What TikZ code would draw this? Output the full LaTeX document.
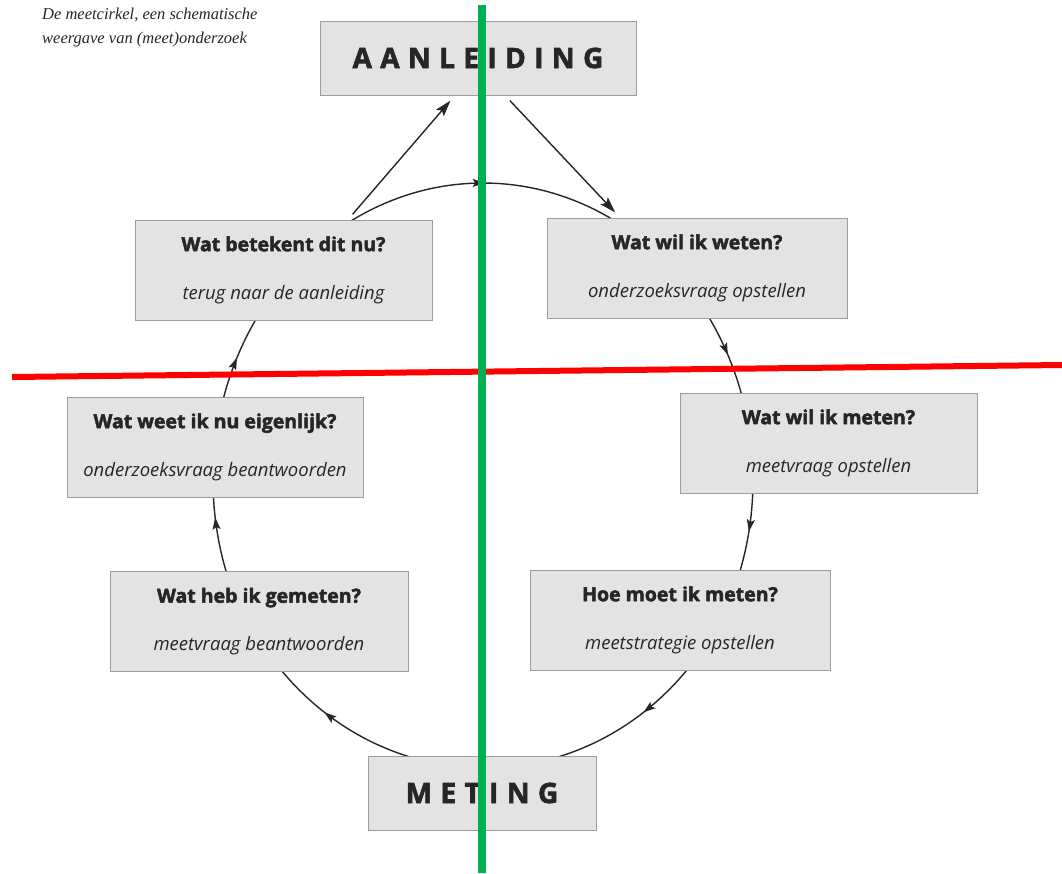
\documentclass[tikz,border=0pt]{standalone}
\usepackage{fontspec}
\newfontfamily\boxfont{Open Sans}[BoldFeatures={FakeBold=2.4}]
\newfontfamily\spacedfont{Open Sans}[LetterSpace=30,BoldFeatures={FakeBold=2.2}]
\newfontfamily\capfont{Liberation Serif}
\usetikzlibrary{arrows.meta,decorations.markings,calc,backgrounds}
\definecolor{boxfill}{HTML}{E3E3E3}
\definecolor{boxline}{HTML}{9C9C9C}
\definecolor{ink}{HTML}{262626}
\definecolor{overgreen}{HTML}{00B050}
\definecolor{overred}{HTML}{FF0000}
\tikzset{
  stepbox/.style={draw=boxline, line width=0.8pt, fill=boxfill, text=ink,
    minimum width=#1, minimum height=100pt, inner sep=0pt, align=center,
    font=\boxfont\fontsize{19.5}{24}\selectfont},
  bigbox/.style={draw=boxline, line width=0.8pt, fill=boxfill, text=ink,
    minimum width=#1, minimum height=74pt, inner sep=0pt,
    font=\spacedfont\bfseries\fontsize{28}{32}\selectfont},
  cyc/.style={draw=ink, line width=1.4pt,
    postaction={decorate},
    decoration={markings, mark=at position 0.5 with {\arrow{Stealth[length=12pt,width=8pt,inset=2.5pt]}}}},
  straight/.style={draw=ink, line width=1.4pt, -{Stealth[length=16pt,width=10pt,inset=3pt]},
    shorten >=7pt, shorten <=7pt},
}
\newcommand{\ttlline}[1]{{\bfseries #1}}
\newcommand{\subline}[1]{{\itshape\fontsize{18.5}{24}\selectfont #1}}
\begin{document}
\begin{tikzpicture}[x=1pt,y=1pt]
\useasboundingbox (0,0) rectangle (1062,-873);

% caption
\node[anchor=north west, align=left, inner sep=0pt, text=ink,
      font=\capfont\itshape\fontsize{16.5}{24}\selectfont] (caption) at (42,-8)
  {De meetcirkel, een schematische\\weergave van (meet)onderzoek};

% boxes
\node[bigbox=316pt] (aanl) at (478,-58) {AANLEIDING};
\node[bigbox=228pt] (meting) at (482,-793) {METING};
\node[stepbox=297pt] (betekent) at (283.5,-270)
  {\ttlline{Wat betekent dit nu?}\\[24pt]\subline{terug naar de aanleiding}};
\node[stepbox=300pt] (weten) at (697,-268)
  {\ttlline{Wat wil ik weten?}\\[24pt]\subline{onderzoeksvraag opstellen}};
\node[stepbox=296pt] (weet) at (215,-447)
  {\ttlline{Wat weet ik nu eigenlijk?}\\[24pt]\subline{onderzoeksvraag beantwoorden}};
\node[stepbox=297pt] (meten) at (828.5,-443)
  {\ttlline{Wat wil ik meten?}\\[24pt]\subline{meetvraag opstellen}};
\node[stepbox=298pt] (heb) at (259,-621.5)
  {\ttlline{Wat heb ik gemeten?}\\[24pt]\subline{meetvraag beantwoorden}};
\node[stepbox=300pt] (hoe) at (680,-620)
  {\ttlline{Hoe moet ik meten?}\\[24pt]\subline{meetstrategie opstellen}};

% cycle arcs (behind the boxes)
\coordinate (ctr) at (483,-480);
\coordinate (ctrb) at (484,-480);
\begin{pgfonlayer}{background}
\fill[white] (0,0) rectangle (1062,-873);
\draw[cyc] ($(ctr)+(121.65:270pt and 297pt)$) arc[start angle=121.65, end angle=57.65, x radius=270pt, y radius=297pt];
\draw[cyc] ($(ctr)+(37:270pt and 297pt)$) arc[start angle=37, end angle=13, x radius=270pt, y radius=297pt];
\draw[cyc] ($(ctr)+(0:270pt and 297pt)$) arc[start angle=0, end angle=-20, x radius=270pt, y radius=297pt];
\draw[cyc] ($(ctrb)+(-34:270pt and 288pt)$) arc[start angle=-34, end angle=-74, x radius=270pt, y radius=288pt];
\draw[cyc] ($(ctrb)+(-106:270pt and 288pt)$) arc[start angle=-106, end angle=-146, x radius=270pt, y radius=288pt];
\draw[cyc] ($(ctr)+(-158:270pt and 297pt)$) arc[start angle=-158, end angle=-187.4, x radius=270pt, y radius=297pt];
\draw[cyc] ($(ctr)+(-192:270pt and 297pt)$) arc[start angle=-192, end angle=-216.8, x radius=270pt, y radius=297pt];
\end{pgfonlayer}

% straight arrows to and from AANLEIDING
\draw[straight] ([xshift=64.5pt]betekent.north) -- ([xshift=-23pt]aanl.south);
\draw[straight] ([xshift=27pt]aanl.south) -- ([xshift=-77pt]weten.north);

% overlay lines
\coordinate (gtop) at (482,-5);
\coordinate (gbot) at (482,-873);
\coordinate (rleft) at (12,-377);
\coordinate (rright) at (1062,-365);
\draw[overred, line width=6pt] (rleft) -- (rright);
\draw[overgreen, line width=8pt] (gtop) -- (gbot);
\end{tikzpicture}
\end{document}
